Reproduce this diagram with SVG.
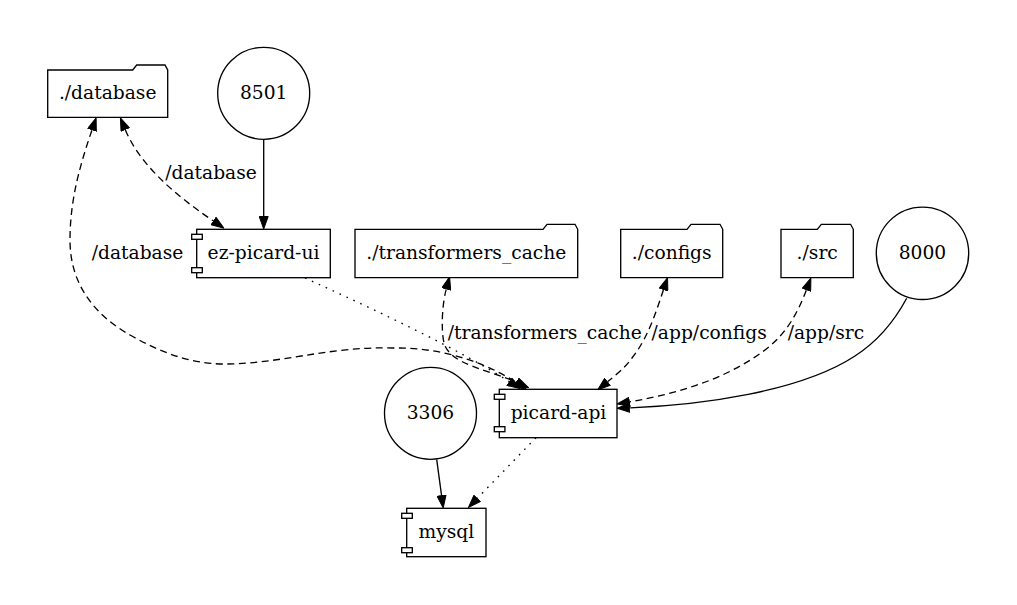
<svg xmlns="http://www.w3.org/2000/svg" width="1017" height="605" viewBox="0 0 1017 605">
<style>
text{font-family:"DejaVu Serif","Liberation Serif",serif;font-size:18.67px;fill:#000;text-anchor:middle}
.n{fill:#fff;stroke:#000;stroke-width:1.33}
.e{fill:none;stroke:#000;stroke-width:1.33}
.dash{stroke-dasharray:7,4.5}
.dot{stroke-dasharray:1.6,6}
</style>
<defs>
<marker id="ah" viewBox="0 0 13.3 10" refX="0" refY="5" markerWidth="13.3" markerHeight="10" markerUnits="userSpaceOnUse" orient="auto-start-reverse">
<path d="M0.5,0.5 L13,5 L0.5,9.5 z" fill="#000" stroke="#000" stroke-width="1"/>
</marker>
</defs>
<rect width="1017" height="605" fill="#fff"/>
<g id="database">
<path class="n" d="M47.7,70 L132.7,70 L136.7,65 L165,65 L167.7,70 L167.7,117.3 L47.7,117.3 Z"/>
<text x="107.7" y="99.3">./database</text>
</g>
<g id="p8501">
<circle class="n" cx="263.7" cy="93.3" r="46"/>
<text x="263.7" y="99.3">8501</text>
</g>
<g id="ez-picard-ui">
<rect class="n" x="196.7" y="229.3" width="133.6" height="48.4"/>
<rect class="n" x="191.7" y="234.3" width="10.6" height="5"/>
<rect class="n" x="191.7" y="267.7" width="10.6" height="5"/>
<text x="263.5" y="259.3">ez-picard-ui</text>
</g>
<g id="transformers_cache">
<path class="n" d="M355,229.3 L543,229.3 L547,224.3 L575,224.3 L577.7,229.3 L577.7,277.7 L355,277.7 Z"/>
<text x="466.3" y="259.3">./transformers_cache</text>
</g>
<g id="configs">
<path class="n" d="M620.7,229.3 L687,229.3 L691,224.3 L720,224.3 L722.7,229.3 L722.7,277.7 L620.7,277.7 Z"/>
<text x="671.7" y="259.3">./configs</text>
</g>
<g id="src">
<path class="n" d="M781,229.3 L817.3,229.3 L821.3,224.3 L850.6,224.3 L853.3,229.3 L853.3,277.7 L781,277.7 Z"/>
<text x="817.2" y="259.3">./src</text>
</g>
<g id="p8000">
<circle class="n" cx="922.5" cy="253.3" r="46.2"/>
<text x="922.5" y="259.3">8000</text>
</g>
<g id="p3306">
<circle class="n" cx="430.5" cy="413.3" r="46"/>
<text x="430.5" y="419.3">3306</text>
</g>
<g id="picard-api">
<rect class="n" x="499.3" y="389.3" width="117.7" height="48.4"/>
<rect class="n" x="494.3" y="394.3" width="10.6" height="5"/>
<rect class="n" x="494.3" y="426.7" width="10.6" height="5"/>
<text x="558.5" y="419.3">picard-api</text>
</g>
<g id="mysql">
<rect class="n" x="406.7" y="508.3" width="79.3" height="48.4"/>
<rect class="n" x="401.7" y="513.3" width="10.6" height="5"/>
<rect class="n" x="401.7" y="547.7" width="10.6" height="5"/>
<text x="446.3" y="538.3">mysql</text>
</g>
<g id="connectors">
<path class="e" d="M263.7,139.3 L263.7,216" marker-end="url(#ah)"/>
<path class="e dash" d="M125.4,129.9 C140,165 175,195 213.1,220.8" marker-start="url(#ah)" marker-end="url(#ah)"/>
<text x="211" y="179">/database</text>
<path class="e dash" d="M91.9,130.2 C80,165 70,200 70,240 C70,285 95,315 130,335 C160,352 190,364 225,364 C280,364 330,346 393,348 C445,347 490,365 515.7,382.3" marker-start="url(#ah)" marker-end="url(#ah)"/>
<text x="137.5" y="259.3">/database</text>
<path class="e dot" d="M305,278 C380,312 460,350 509,381.5" marker-end="url(#ah)"/>
<path class="e dash" d="M446.2,289.4 C442,305 441,330 444,343 C450,365 490,370 516.7,382.3" marker-start="url(#ah)" marker-end="url(#ah)"/>
<text x="544.8" y="339">/transformers_cache</text>
<path class="e dash" d="M663.4,290 C656,312 648,338 632,358 C627,365 622,370 607.8,381.6" marker-start="url(#ah)" marker-end="url(#ah)"/>
<text x="709.2" y="339">/app/configs</text>
<path class="e dash" d="M806.3,290.2 C797,315 785,335 765,350 C725,380 675,394 629.9,401.8" marker-start="url(#ah)" marker-end="url(#ah)"/>
<text x="825.9" y="339">/app/src</text>
<path class="e" d="M906.7,298.3 C895,320 880,340 855,356 C800,392 700,405 630.2,407.8" marker-end="url(#ah)"/>
<path class="e" d="M436.7,459.3 L441.5,495.1" marker-end="url(#ah)"/>
<path class="e dot" d="M536,437.7 L477.5,498.1" marker-end="url(#ah)"/>
</g>
</svg>
